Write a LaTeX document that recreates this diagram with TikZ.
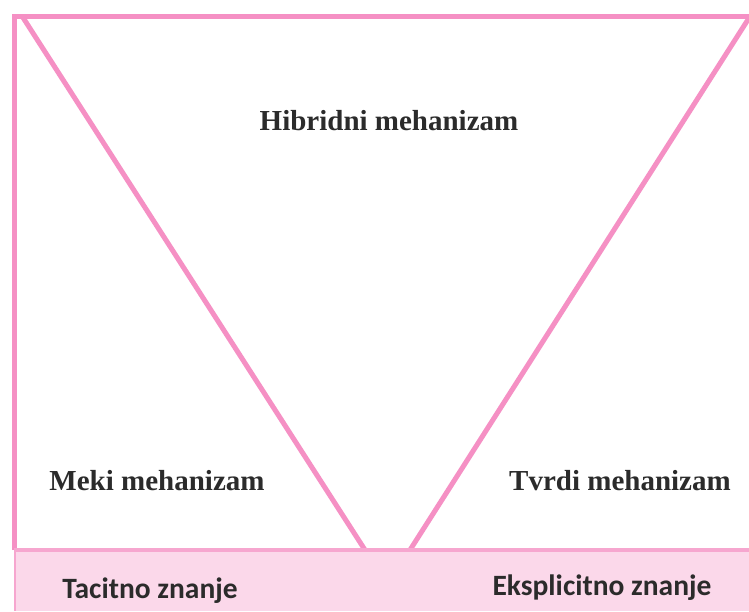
\documentclass[tikz,border=0pt]{standalone}
\usepackage{fontspec}
\setmainfont{Liberation Serif}
\newfontfamily\calib{Carlito}
\definecolor{pinkline}{HTML}{F590C4}
\definecolor{stripfill}{HTML}{FBD8EA}
\definecolor{stripedge}{HTML}{F6A6CF}
\definecolor{txt}{HTML}{2B2B2B}
\tikzset{
  mech/.style={font=\fontsize{29}{34}\selectfont\bfseries, text=txt, inner sep=0pt},
  know/.style={font=\calib\fontsize{29.5}{34}\selectfont\bfseries, text=txt, inner sep=0pt},
  pline/.style={draw=pinkline, line width=5pt}
}
\begin{document}
\begin{tikzpicture}[x=1pt,y=-1pt]
\useasboundingbox (0,0) rectangle (749,611);
\fill[white] (0,0) rectangle (749,611);
% bottom strip
\fill[stripfill] (14,550) rectangle (749,611);
\draw[stripedge, line width=1.5pt] (15,550) -- (15,611);
% frame
\coordinate (tl) at (14,16);
\coordinate (tr) at (749,16);
\coordinate (bl) at (14,550);
\coordinate (br) at (749,550);
\draw[pline] (bl) -- (tl) -- (tr);
% V lines
\coordinate (l1) at (22,16);
\coordinate (l2) at (365,550);
\coordinate (r1) at (749,18);
\coordinate (r2) at (410,550);
\draw[pline] (l1) -- (l2);
\draw[pline] (r1) -- (r2);
\draw[stripedge, line width=3.5pt] (14,550) -- (749,550);
% texts
\node[mech] (hib) at (389,121) {Hibridni mehanizam};
\node[mech] (meki) at (157,481) {Meki mehanizam};
\node[mech] (tvrdi) at (620,481) {Tvrdi mehanizam};
\node[know] (tac) at (150,591) {Tacitno znanje};
\node[know] (eks) at (602,588) {Eksplicitno znanje};
\end{tikzpicture}
\end{document}
